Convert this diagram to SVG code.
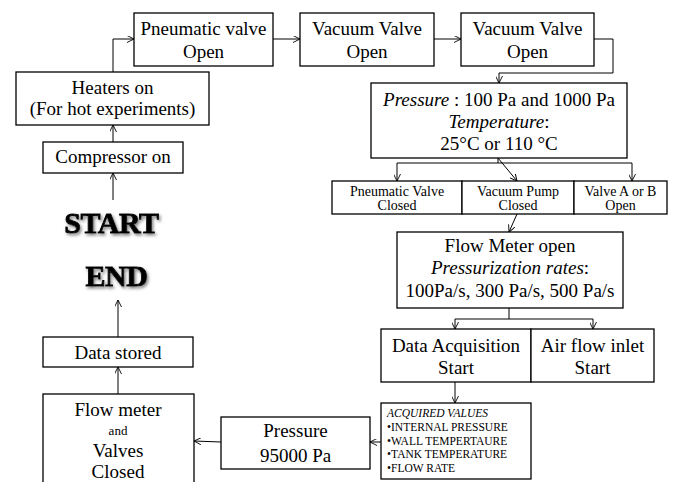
<svg xmlns="http://www.w3.org/2000/svg" width="695" height="482" viewBox="0 0 695 482">
<style>
.box{fill:#fff;stroke:#000;stroke-width:1.3}
.ln{fill:none;stroke:#000;stroke-width:1}
.arr{marker-end:url(#ah)}
text{font-family:"Liberation Serif","Times New Roman",serif;fill:#000}
.t{font-size:19px;text-anchor:middle}
.s{font-size:14px;text-anchor:middle}
.a{font-size:13px;text-anchor:middle}
.xs{font-size:11.5px}
.big{font-size:30px;font-weight:bold;text-anchor:middle;letter-spacing:-0.5px;stroke:#000;stroke-width:0.9;filter:url(#sh)}
.i{font-style:italic}
</style>
<defs>
<marker id="ah" viewBox="0 0 10 10" refX="10" refY="5" markerWidth="7" markerHeight="7" orient="auto" markerUnits="userSpaceOnUse">
<path d="M0,0 L10,5 L0,10" fill="none" stroke="#000" stroke-width="1.3"/>
</marker>
<filter id="sh" x="-20%" y="-30%" width="140%" height="170%">
<feDropShadow dx="1.5" dy="2" stdDeviation="1.5" flood-color="#777" flood-opacity="0.9"/>
</filter>
</defs>

<g id="connectors">
<path class="ln arr" d="M113,72 V39 H134"/>
<path class="ln arr" d="M113,142 V125"/>
<path class="ln arr" d="M113,200 V173"/>
<path class="ln arr" d="M273,39 H300"/>
<path class="ln arr" d="M434,39 H461"/>
<path class="ln arr" d="M594,39 H613 V73 H499 V83"/>
<path class="ln" d="M498,158 V163 M397,163 H632"/>
<path class="ln arr" d="M397,163 V181"/>
<path class="ln arr" d="M632,163 V181"/>
<path class="ln arr" d="M498,158 L517,181"/>
<path class="ln arr" d="M517,214 L509,232"/>
<path class="ln" d="M509,308 V319 M455,319 H593"/>
<path class="ln arr" d="M455,319 V329"/>
<path class="ln arr" d="M593,319 V329"/>
<path class="ln arr" d="M455,382 V403"/>
<path class="ln arr" d="M381,442 H370"/>
<path class="ln arr" d="M221,442 L194,441"/>
<path class="ln arr" d="M118,394 V367"/>
<path class="ln arr" d="M118,337 V300"/>
</g>

<g id="pneumatic-open">
<rect class="box" x="134" y="13" width="139" height="53"/>
<text class="t" x="203.5" y="35">Pneumatic valve</text>
<text class="t" x="203.5" y="58">Open</text>
</g>
<g id="vacuum-valve-1">
<rect class="box" x="300" y="13" width="134" height="53"/>
<text class="t" x="367" y="35">Vacuum Valve</text>
<text class="t" x="367" y="58">Open</text>
</g>
<g id="vacuum-valve-2">
<rect class="box" x="461" y="13" width="133" height="53"/>
<text class="t" x="527.5" y="35">Vacuum Valve</text>
<text class="t" x="527.5" y="58">Open</text>
</g>
<g id="heaters">
<rect class="box" x="16" y="72" width="193" height="53"/>
<text class="t" x="112.5" y="94">Heaters on</text>
<text class="t" x="112.5" y="115">(For hot experiments)</text>
</g>
<g id="compressor">
<rect class="box" x="43" y="142" width="140" height="31"/>
<text class="t" x="113" y="163">Compressor on</text>
</g>
<g id="start">
<text class="big" x="111.5" y="233">START</text>
</g>
<g id="end">
<text class="big" x="116.5" y="286">END</text>
</g>
<g id="pressure-temp">
<rect class="box" x="371" y="83" width="256" height="75"/>
<text class="t" x="499" y="106"><tspan class="i">Pressure</tspan> : 100 Pa and 1000 Pa</text>
<text class="t" x="499" y="128"><tspan class="i">Temperature</tspan>:</text>
<text class="t" x="499" y="150">25°C or 110 °C</text>
</g>
<g id="pneumatic-closed">
<rect class="box" x="332" y="181" width="130" height="33"/>
<text class="s" x="397" y="196">Pneumatic Valve</text>
<text class="s" x="397" y="210">Closed</text>
</g>
<g id="vacuum-pump-closed">
<rect class="box" x="462" y="181" width="112" height="33"/>
<text class="s" x="518" y="196">Vacuum Pump</text>
<text class="s" x="518" y="210">Closed</text>
</g>
<g id="valve-ab-open">
<rect class="box" x="574" y="181" width="93" height="33"/>
<text class="s" x="620.5" y="196">Valve A or B</text>
<text class="s" x="620.5" y="210">Open</text>
</g>
<g id="flow-meter-open">
<rect class="box" x="397" y="232" width="226" height="76"/>
<text class="t" x="510" y="252">Flow Meter open</text>
<text class="t" x="510" y="274"><tspan class="i">Pressurization rates</tspan>:</text>
<text class="t" x="510" y="297">100Pa/s, 300 Pa/s, 500 Pa/s</text>
</g>
<g id="data-acquisition">
<rect class="box" x="381" y="329" width="150" height="53"/>
<text class="t" x="456" y="352">Data Acquisition</text>
<text class="t" x="456" y="374">Start</text>
</g>
<g id="air-flow">
<rect class="box" x="531" y="329" width="123" height="53"/>
<text class="t" x="592.5" y="352">Air flow inlet</text>
<text class="t" x="592.5" y="374">Start</text>
</g>
<g id="acquired-values">
<rect class="box" x="381" y="403" width="150" height="76"/>
<text class="xs i" x="387" y="417">ACQUIRED VALUES</text>
<text class="xs" x="387" y="431">•INTERNAL PRESSURE</text>
<text class="xs" x="387" y="445">•WALL TEMPERTAURE</text>
<text class="xs" x="387" y="458">•TANK TEMPERATURE</text>
<text class="xs" x="387" y="472">•FLOW RATE</text>
</g>
<g id="pressure-95000">
<rect class="box" x="221" y="417" width="149" height="52"/>
<text class="t" x="295.5" y="437">Pressure</text>
<text class="t" x="295.5" y="462">95000 Pa</text>
</g>
<g id="flow-meter-closed">
<rect class="box" x="43" y="394" width="151" height="100"/>
<text class="t" x="118" y="416">Flow meter</text>
<text class="a" x="118" y="435">and</text>
<text class="t" x="118" y="457">Valves</text>
<text class="t" x="118" y="478">Closed</text>
</g>
<g id="data-stored">
<rect class="box" x="43" y="337" width="150" height="30"/>
<text class="t" x="118" y="359">Data stored</text>
</g>
</svg>
